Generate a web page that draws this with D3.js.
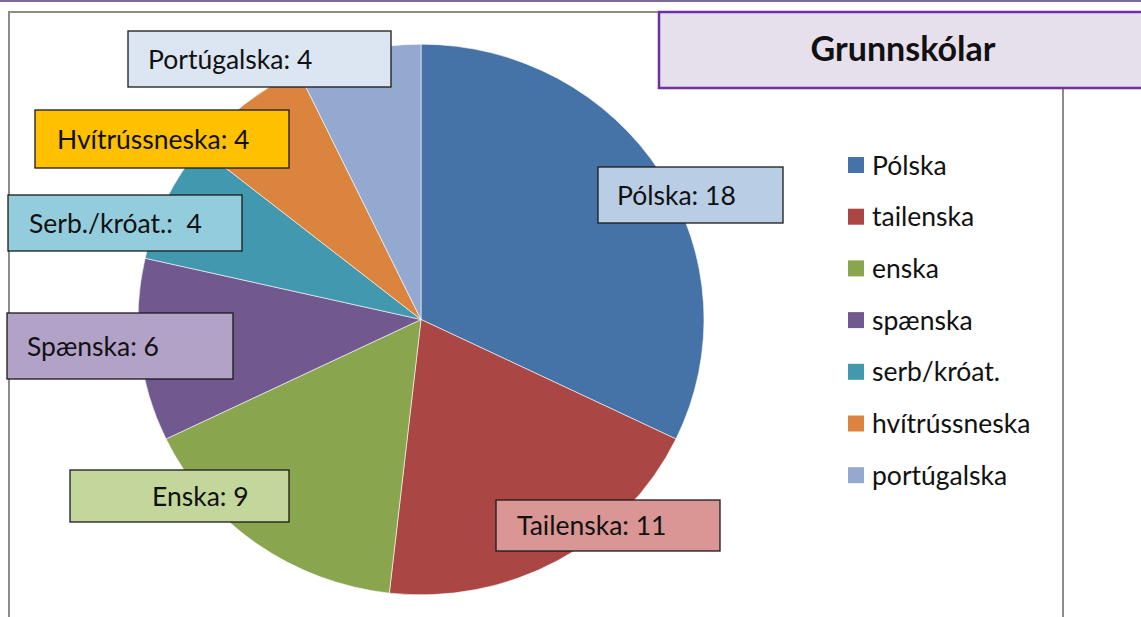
<!DOCTYPE html>
<html>
<head>
<meta charset="utf-8">
<script src="https://cdn.jsdelivr.net/npm/d3@7"></script>
<style>
  body { margin: 0; background: #fff; }
  svg { display: block; font-family: Lato, "Open Sans", sans-serif; }
  text { white-space: pre; }
</style>
</head>
<body>
<svg id="chart"></svg>
<script>
// data
const categories = ["Pólska", "tailenska", "enska", "spænska", "serb/króat.", "hvítrússneska", "portúgalska"];
const values = [18, 11, 9, 6, 4, 4, 4];
const labelTexts = ["Pólska: 18", "Tailenska: 11", "Enska: 9", "Spænska: 6", "Serb./króat.:  4", "Hvítrússneska: 4", "Portúgalska: 4"];
const sliceColors = ["#4572a7", "#aa4643", "#89a54e", "#71588f", "#4198af", "#db843d", "#93a9cf"];
const labelFills = ["#b9cde5", "#d99694", "#c3d69b", "#b3a2c7", "#93cddd", "#ffc000", "#dce6f2"];

// label boxes were dragged around by hand in the original, so keep their spots here
const labelBoxes = [
    {x: 598, y: 167, w: 185, h: 56, tx: 19},
    {x: 496, y: 500, w: 224, h: 51, tx: 21},
    {x: 70, y: 470, w: 219, h: 52, tx: 82},
    {x: 7, y: 313, w: 226, h: 66, tx: 20},
    {x: 8, y: 195, w: 234, h: 56, tx: 21},
    {x: 35, y: 110, w: 254, h: 58, tx: 22},
    {x: 128, y: 31, w: 263, h: 56, tx: 20}
];

const width = 1141, height = 617;
const svg = d3.select("#chart").attr("width", width).attr("height", height);

// frame lines
svg.append("line").attr("x1", 0).attr("x2", width).attr("y1", 1).attr("y2", 1)
    .attr("stroke", "#7b68a0").attr("stroke-width", 2);
svg.append("path")
    .attr("d", "M9,617 L9,12 L660,12")
    .attr("fill", "none").attr("stroke", "#8c8c8c").attr("stroke-width", 2);
svg.append("line").attr("x1", 1063).attr("x2", 1063).attr("y1", 88).attr("y2", height)
    .attr("stroke", "#8c8c8c").attr("stroke-width", 2);

// pie
const pie = d3.pie().sort(null).value(d => d);
const arc = d3.arc().innerRadius(0).outerRadius(283);

const pieG = svg.append("g")
    .attr("transform", "translate(421,319.5) scale(1,0.973)");

pieG.selectAll("path")
    .data(pie(values))
    .join("path")
    .attr("d", arc)
    .attr("fill", (d, i) => sliceColors[i])
    .attr("stroke", "#fff")
    .attr("stroke-width", 0.6);

// data labels
const lab = svg.append("g").selectAll("g")
    .data(labelBoxes)
    .join("g")
    .attr("transform", d => `translate(${d.x},${d.y})`);

lab.append("rect")
    .attr("width", d => d.w).attr("height", d => d.h)
    .attr("fill", (d, i) => labelFills[i])
    .attr("stroke", "#1a1a1a").attr("stroke-width", 1.3);

lab.append("text")
    .attr("x", d => d.tx)
    .attr("y", d => d.h / 2)
    .attr("dy", "0.36em")
    .attr("font-size", "26.5px")
    .attr("fill", "#111")
    .text((d, i) => labelTexts[i]);

// title
svg.append("rect")
    .attr("x", 659).attr("y", 12).attr("width", 500).attr("height", 76)
    .attr("fill", "#e6e0ec").attr("stroke", "#7030a0").attr("stroke-width", 2.5);
svg.append("text")
    .attr("x", 903).attr("y", 49).attr("dy", "0.36em")
    .attr("text-anchor", "middle")
    .attr("font-size", "34px").attr("font-weight", "bold")
    .attr("fill", "#111")
    .text("Grunnskólar");

// legend
const legend = svg.append("g").attr("transform", "translate(848,165)");
const row = legend.selectAll("g")
    .data(categories)
    .join("g")
    .attr("transform", (d, i) => `translate(0,${i * 51.7})`);
row.append("rect")
    .attr("x", 0).attr("y", -8).attr("width", 16).attr("height", 16)
    .attr("fill", (d, i) => sliceColors[i]);
row.append("text")
    .attr("x", 24).attr("dy", "0.36em")
    .attr("font-size", "26.5px").attr("fill", "#111")
    .text(d => d);
</script>
</body>
</html>
